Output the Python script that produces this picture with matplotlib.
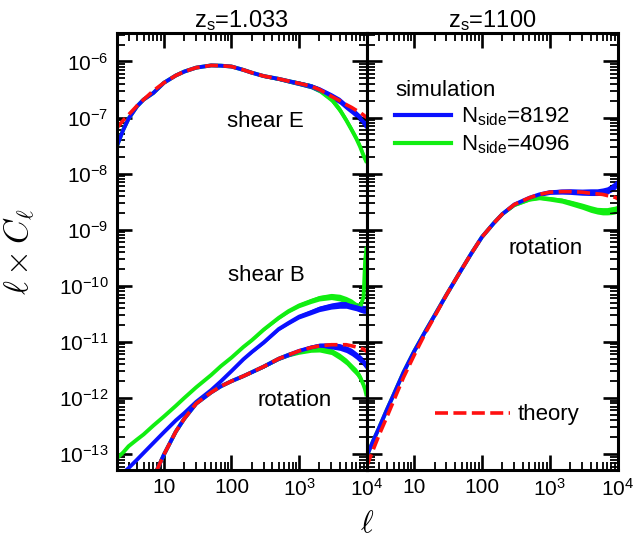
import numpy as np
import matplotlib
matplotlib.use("Agg")
import matplotlib.pyplot as plt
from matplotlib.ticker import LogLocator, FixedLocator, FixedFormatter, NullFormatter
from matplotlib.lines import Line2D

# multipoles shared by all spectra
ell = np.array([2, 2.5, 3, 4, 5, 7, 10, 15, 20, 30, 50, 70, 100, 150, 200, 300,
                500, 700, 1000, 1500, 2000, 3000, 4000, 5000, 6000, 7000, 8000,
                9000, 9500, 10000])

# log10(l * C_l) -- source redshift z_s = 1.033
logE_theory = [-7.19, -7.05, -6.95, -6.79, -6.68, -6.52, -6.38, -6.25, -6.18, -6.11,
               -6.07, -6.075, -6.09, -6.15, -6.20, -6.26, -6.31, -6.35, -6.39, -6.44,
               -6.50, -6.62, -6.70, -6.77, -6.82, -6.87, -6.91, -6.955, -6.98, -7.00]
logE_8192 = [-7.52, -7.22, -7.02, -6.80, -6.68, -6.56, -6.38, -6.25, -6.18, -6.11,
             -6.07, -6.075, -6.09, -6.15, -6.20, -6.26, -6.31, -6.35, -6.39, -6.44,
             -6.50, -6.61, -6.70, -6.80, -6.87, -6.94, -7.01, -7.08, -7.12, -7.17]
logE_4096 = [-7.52, -7.22, -7.02, -6.80, -6.68, -6.56, -6.38, -6.25, -6.18, -6.11,
             -6.07, -6.075, -6.09, -6.15, -6.20, -6.26, -6.31, -6.35, -6.39, -6.44,
             -6.51, -6.67, -6.86, -7.05, -7.22, -7.37, -7.52, -7.68, -7.74, -7.80]
logB_8192 = [-13.46, -13.34, -13.25, -13.10, -12.98, -12.80, -12.61, -12.40, -12.27, -12.07,
             -11.86, -11.70, -11.52, -11.31, -11.18, -11.01, -10.77, -10.66, -10.55, -10.47,
             -10.41, -10.36, -10.34, -10.34, -10.36, -10.38, -10.40, -10.42, -10.42, -10.42]
logB_4096 = [-13.08, -12.97, -12.86, -12.74, -12.65, -12.49, -12.33, -12.14, -12.00, -11.81,
             -11.59, -11.43, -11.28, -11.09, -10.97, -10.78, -10.57, -10.45, -10.35, -10.27,
             -10.22, -10.19, -10.21, -10.25, -10.30, -10.36, -10.38, -10.20, -9.55, -9.30]
logRot_theory = [-15.5, -15.1, -14.8, -14.3, -13.95, -13.42, -13.01, -12.60, -12.37, -12.10,
                 -11.90, -11.79, -11.70, -11.61, -11.54, -11.44, -11.30, -11.23, -11.16, -11.10,
                 -11.07, -11.05, -11.05, -11.05, -11.07, -11.09, -11.11, -11.13, -11.15, -11.17]
logRot_8192 = [-15.5, -15.1, -14.8, -14.3, -13.95, -13.42, -13.01, -12.60, -12.37, -12.10,
               -11.90, -11.79, -11.70, -11.61, -11.54, -11.44, -11.30, -11.23, -11.16, -11.10,
               -11.07, -11.07, -11.09, -11.13, -11.18, -11.24, -11.30, -11.36, -11.40, -11.44]
logRot_4096 = [-15.5, -15.1, -14.8, -14.3, -13.95, -13.42, -13.01, -12.60, -12.37, -12.10,
               -11.90, -11.79, -11.70, -11.61, -11.54, -11.44, -11.30, -11.23, -11.18, -11.14,
               -11.13, -11.17, -11.26, -11.35, -11.45, -11.53, -11.63, -11.77, -11.85, -11.97]

# log10(l * C_l) -- source redshift z_s = 1100, rotation
logCMB_theory = [-13.22, -12.92, -12.68, -12.33, -12.05, -11.63, -11.24, -10.82, -10.55, -10.16,
                 -9.71, -9.42, -9.13, -8.88, -8.72, -8.55, -8.43, -8.37, -8.33, -8.32,
                 -8.32, -8.33, -8.35, -8.36, -8.37, -8.39, -8.40, -8.42, -8.43, -8.45]
logCMB_8192 = [-13.04, -12.76, -12.55, -12.20, -11.94, -11.54, -11.17, -10.79, -10.53, -10.16,
               -9.71, -9.42, -9.13, -8.88, -8.72, -8.55, -8.43, -8.37, -8.33, -8.32,
               -8.32, -8.33, -8.33, -8.33, -8.32, -8.30, -8.26, -8.22, -8.19, -8.15]
logCMB_4096 = [-13.04, -12.76, -12.55, -12.20, -11.94, -11.54, -11.17, -10.79, -10.53, -10.16,
               -9.71, -9.42, -9.13, -8.88, -8.72, -8.56, -8.46, -8.43, -8.45, -8.48,
               -8.52, -8.58, -8.63, -8.66, -8.67, -8.67, -8.66, -8.65, -8.64, -8.64]

# half-width (dex) of the scatter band of the simulated spectra
scatter_dex = [0, 0, 0, 0, 0, 0, 0.005, 0.005, 0.008, 0.008, 0.01, 0.01, 0.012, 0.015,
               0.02, 0.025, 0.03, 0.035, 0.04, 0.045, 0.05, 0.055, 0.06, 0.06, 0.065,
               0.065, 0.07, 0.07, 0.07, 0.07]

xticks = [10, 100, 1000, 10000]
xticklabels = ["10", "100", r"$10^3$", r"$10^4$"]
yticks = [1e-13, 1e-12, 1e-11, 1e-10, 1e-9, 1e-8, 1e-7, 1e-6]
yticklabels = [r"$10^{-13}$", r"$10^{-12}$", r"$10^{-11}$", r"$10^{-10}$",
               r"$10^{-9}$", r"$10^{-8}$", r"$10^{-7}$", r"$10^{-6}$"]

BLUE = "#0a10ff"
GREEN = "#11ee11"
RED = "#ff1010"
FS_TICK = 15
FS_TEXT = 16
FS_TITLE = 17

plt.rcParams["font.family"] = ["Liberation Sans", "DejaVu Sans"]
plt.rcParams["mathtext.fontset"] = "custom"
plt.rcParams["mathtext.rm"] = "Liberation Sans"
plt.rcParams["mathtext.it"] = "Liberation Sans:italic"
plt.rcParams["mathtext.bf"] = "Liberation Sans:bold"

fig = plt.figure(figsize=(6.41, 5.40), dpi=100)
axL = fig.add_axes([0.182, 0.1296, 0.390, 0.809])
axR = fig.add_axes([0.572, 0.1296, 0.3916, 0.809])

spread = 10 ** np.array(scatter_dex)
DASH = (0, (3.6, 1.5))


def sim(ax, logv, color):
    v = 10 ** np.array(logv)
    ax.fill_between(ell, v / spread, v * spread, color=color, lw=0)
    ax.plot(ell, v, color=color, lw=2.8, solid_capstyle="butt")


def theory(ax, logv):
    ax.plot(ell, 10 ** np.array(logv), color=RED, lw=2.6, ls=DASH)


def style(ax, show_y):
    ax.set_xscale("log")
    ax.set_yscale("log")
    ax.set_xlim(2, 1e4)
    ax.set_ylim(5.2e-14, 3.2e-6)
    for s in ax.spines.values():
        s.set_linewidth(2.2)
    ax.tick_params(which="both", direction="in", top=True, right=True,
                   labelsize=FS_TICK, pad=6)
    ax.tick_params(which="major", length=11, width=1.9)
    ax.tick_params(which="minor", length=6, width=1.3)
    ax.xaxis.set_major_locator(FixedLocator(xticks))
    ax.xaxis.set_major_formatter(FixedFormatter(xticklabels))
    ax.xaxis.set_minor_locator(LogLocator(base=10, subs=np.arange(2, 10), numticks=100))
    ax.xaxis.set_minor_formatter(NullFormatter())
    ax.yaxis.set_major_locator(FixedLocator(yticks))
    ax.yaxis.set_minor_locator(LogLocator(base=10, subs=np.arange(2, 10), numticks=100))
    ax.yaxis.set_minor_formatter(NullFormatter())
    if show_y:
        ax.yaxis.set_major_formatter(FixedFormatter(yticklabels))
    else:
        ax.yaxis.set_major_formatter(NullFormatter())


# z_s = 1.033 : shear E, shear B and rotation
for logv, col in [(logE_4096, GREEN), (logE_8192, BLUE),
                  (logB_4096, GREEN), (logB_8192, BLUE),
                  (logRot_4096, GREEN), (logRot_8192, BLUE)]:
    sim(axL, logv, col)
theory(axL, logE_theory)
theory(axL, logRot_theory)
style(axL, True)
axL.set_title(r"z$_{\rm s}$=1.033", fontsize=FS_TITLE, pad=3)
axL.text(0.593, 0.797, "shear E", transform=axL.transAxes, ha="center", va="center", fontsize=FS_TEXT)
axL.text(0.597, 0.446, "shear B", transform=axL.transAxes, ha="center", va="center", fontsize=FS_TEXT)
axL.text(0.713, 0.160, "rotation", transform=axL.transAxes, ha="center", va="center", fontsize=FS_TEXT)
axL.set_ylabel(r"$\ell\times C_\ell$", fontsize=24, math_fontfamily="cm")
axL.yaxis.set_label_coords(-0.32, 0.5)

# z_s = 1100 : rotation
sim(axR, logCMB_4096, GREEN)
sim(axR, logCMB_8192, BLUE)
theory(axR, logCMB_theory)
style(axR, False)
axR.set_title(r"z$_{\rm s}$=1100", fontsize=FS_TITLE, pad=3)
axR.text(0.714, 0.508, "rotation", transform=axR.transAxes, ha="center", va="center", fontsize=FS_TEXT)

h_hi = Line2D([], [], color=BLUE, lw=3)
h_lo = Line2D([], [], color=GREEN, lw=3)
h_th = Line2D([], [], color=RED, lw=2.6, ls=DASH)
leg1 = axR.legend([h_hi, h_lo], [r"N$_{\rm side}$=8192", r"N$_{\rm side}$=4096"],
                  title="simulation", loc="upper left", bbox_to_anchor=(0.113, 0.893),
                  frameon=False, fontsize=FS_TEXT, title_fontsize=FS_TEXT, handlelength=2.5,
                  handletextpad=0.45, labelspacing=0.22, borderpad=0, borderaxespad=0,
                  alignment="left")
axR.add_artist(leg1)
axR.legend([h_th], ["theory"], loc="center left", bbox_to_anchor=(0.272, 0.126),
           frameon=False, fontsize=FS_TEXT, handlelength=3.4, handletextpad=0.3,
           borderpad=0, borderaxespad=0)

fig.text(366.7 / 641, 1 - 524 / 540, r"$\ell$", ha="center", va="center",
         fontsize=22, math_fontfamily="cm")

fig.savefig("out.png", dpi=100)
